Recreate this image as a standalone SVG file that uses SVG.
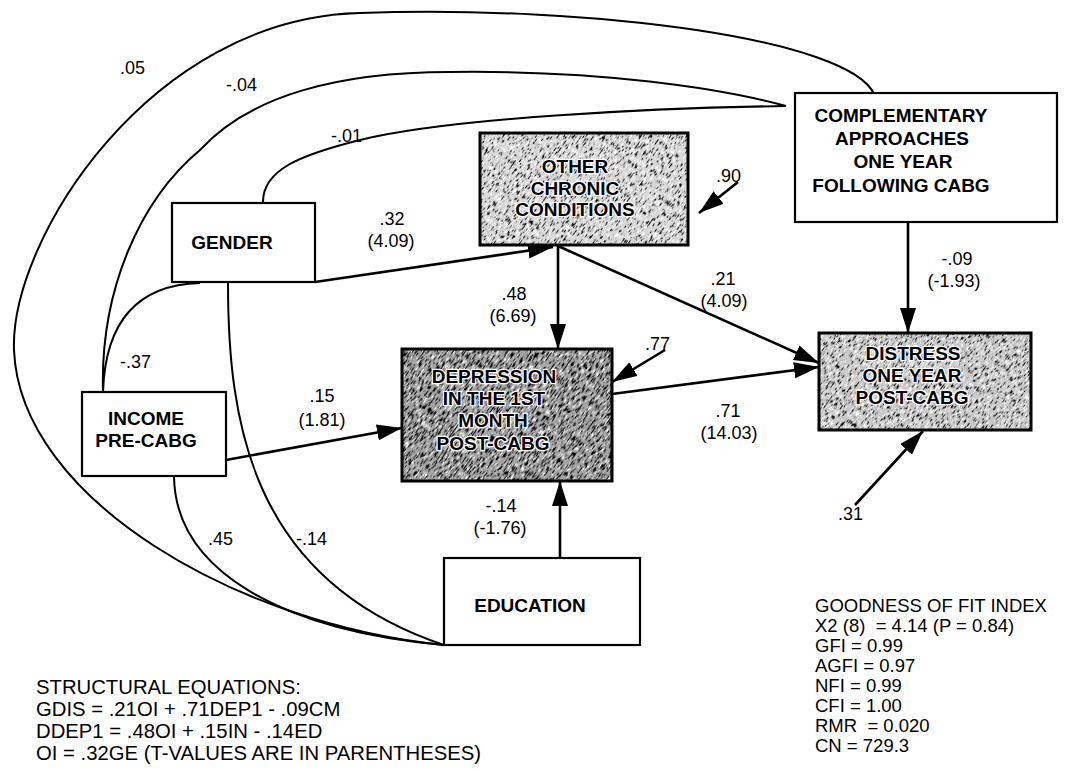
<svg xmlns="http://www.w3.org/2000/svg" width="1065" height="771" viewBox="0 0 1065 771">
<style>
.bx{fill:#fff;stroke:#000;stroke-width:2.2}
.sbx{fill:none;stroke:#000;stroke-width:3}
.nt{font-family:"Liberation Sans",Arial,sans-serif;font-weight:bold;font-size:19px;text-anchor:middle;fill:#000}
.st{font-family:"Liberation Sans",Arial,sans-serif;font-weight:bold;font-size:19px;text-anchor:middle;fill:#000;stroke:#fff;stroke-width:2.5;paint-order:stroke;stroke-linejoin:round}
.lb{font-family:"Liberation Sans",Arial,sans-serif;font-size:18px;text-anchor:middle;fill:#000}
.tx{font-family:"Liberation Sans",Arial,sans-serif;font-size:18px;fill:#000;white-space:pre}
.gf{font-family:"Liberation Sans",Arial,sans-serif;font-size:18.5px;fill:#000;white-space:pre}
.eq{font-family:"Liberation Sans",Arial,sans-serif;font-size:20.3px;fill:#000}
.cv{fill:none;stroke:#000;stroke-width:2}
.ar{fill:none;stroke:#000;stroke-width:2.6;marker-end:url(#ah)}
</style>
<defs>
<marker id="ah" markerUnits="userSpaceOnUse" markerWidth="26" markerHeight="18" refX="25" refY="8" orient="auto">
<path d="M0,0 L25,8 L0,16 z" fill="#000"/>
</marker>
<filter id="grain" x="0" y="0" width="1" height="1" color-interpolation-filters="sRGB">
<feTurbulence type="fractalNoise" baseFrequency="0.8 0.18" numOctaves="2" seed="5" result="n"/>
<feColorMatrix in="n" type="matrix" values="0 0 0 0 0  0 0 0 0 0  0 0 0 0 0  7 0 0 0 -4.1" result="blk"/>
<feColorMatrix in="n" type="matrix" values="0 0 0 0 1  0 0 0 0 1  0 0 0 0 1  -7 0 0 0 3.1" result="wht"/>
<feMerge result="m"><feMergeNode in="wht"/><feMergeNode in="blk"/></feMerge>
<feComposite in="m" in2="SourceGraphic" operator="in"/>
</filter>
<filter id="grainD" x="0" y="0" width="1" height="1" color-interpolation-filters="sRGB">
<feTurbulence type="fractalNoise" baseFrequency="0.8 0.15" numOctaves="2" seed="11" result="n"/>
<feColorMatrix in="n" type="matrix" values="0 0 0 0 0  0 0 0 0 0  0 0 0 0 0  7 0 0 0 -3.7" result="blk"/>
<feColorMatrix in="n" type="matrix" values="0 0 0 0 1  0 0 0 0 1  0 0 0 0 1  -7 0 0 0 2.8" result="wht"/>
<feMerge result="m"><feMergeNode in="wht"/><feMergeNode in="blk"/></feMerge>
<feComposite in="m" in2="SourceGraphic" operator="in"/>
</filter>
<clipPath id="cO"><rect x="480" y="133" width="208" height="112"/></clipPath>
<clipPath id="cD"><rect x="402" y="349" width="210" height="132"/></clipPath>
<clipPath id="cS"><rect x="819" y="333" width="212" height="97"/></clipPath>
</defs>
<rect width="1065" height="771" fill="#fff"/>

<g id="connectors">
<path class="cv" d="M444,645 C240,625 20,500 14,350 C10,240 150,18 360,13 C600,5 850,40 874,94"/>
<path class="cv" d="M103,392 C100,290 140,200 200,150 C250,95 340,72 450,72 C600,70 720,88 786,106"/>
<path class="cv" d="M263,203 C262,170 300,155 360,140 C450,118 650,108 786,106"/>
<path class="cv" d="M103,392 C105,330 130,285 200,283"/>
<path class="cv" d="M228,283 C228,420 250,580 444,645"/>
<path class="cv" d="M174,476 C175,570 280,630 444,645"/>
<line class="ar" x1="315" y1="282" x2="553" y2="247"/>
<line class="ar" x1="558" y1="246" x2="558" y2="349"/>
<line class="ar" x1="558" y1="246" x2="819" y2="363"/>
<line class="ar" x1="612" y1="394" x2="819" y2="367"/>
<line class="ar" x1="226" y1="460" x2="402" y2="428"/>
<line class="ar" x1="908" y1="222" x2="908" y2="333"/>
<line class="ar" x1="560" y1="558" x2="560" y2="481"/>
<line class="ar" x1="738" y1="182" x2="699" y2="213"/>
<line class="ar" x1="665" y1="350" x2="612" y2="382"/>
<line class="ar" x1="855" y1="505" x2="923" y2="431"/>
</g>

<g id="labels">
<text class="tx" x="120" y="74">.05</text>
<text class="tx" x="226" y="91">-.04</text>
<text class="tx" x="331" y="142">-.01</text>
<text class="lb" x="392" y="225">.32</text>
<text class="lb" x="391" y="247">(4.09)</text>
<text class="tx" x="120" y="368">-.37</text>
<text class="lb" x="322" y="402">.15</text>
<text class="lb" x="322" y="426">(1.81)</text>
<text class="lb" x="514" y="300">.48</text>
<text class="lb" x="513" y="322">(6.69)</text>
<text class="tx" x="716" y="182">.90</text>
<text class="tx" x="645" y="350">.77</text>
<text class="lb" x="723" y="285">.21</text>
<text class="lb" x="724" y="307">(4.09)</text>
<text class="lb" x="957" y="265">-.09</text>
<text class="lb" x="954" y="287">(-1.93)</text>
<text class="lb" x="728" y="417">.71</text>
<text class="lb" x="729" y="439">(14.03)</text>
<text class="tx" x="838" y="520">.31</text>
<text class="lb" x="501" y="512">-.14</text>
<text class="lb" x="500" y="534">(-1.76)</text>
<text class="tx" x="208" y="545">.45</text>
<text class="tx" x="296" y="545">-.14</text>
</g>

<g id="gender">
<rect class="bx" x="172" y="203" width="143" height="79"/>
<text class="nt" x="232" y="249">GENDER</text>
</g>

<g id="income">
<rect class="bx" x="82" y="392" width="144" height="84"/>
<text class="nt" x="146" y="425">INCOME</text>
<text class="nt" x="146" y="447">PRE-CABG</text>
</g>

<g id="other-chronic">
<rect x="480" y="133" width="208" height="112" fill="#d6d6d6"/>
<g clip-path="url(#cO)"><rect x="384" y="39" width="400" height="300" fill="#fff" filter="url(#grain)" transform="rotate(35 584 189)"/></g>
<rect class="sbx" x="480" y="133" width="208" height="112"/>
<text class="st" x="575" y="173">OTHER</text>
<text class="st" x="575" y="195">CHRONIC</text>
<text class="st" x="575" y="216">CONDITIONS</text>
</g>

<g id="complementary">
<rect class="bx" x="795" y="93" width="262" height="129"/>
<text class="nt" x="901" y="122">COMPLEMENTARY</text>
<text class="nt" x="902" y="145">APPROACHES</text>
<text class="nt" x="903" y="168">ONE YEAR</text>
<text class="nt" x="901" y="192">FOLLOWING CABG</text>
</g>

<g id="depression">
<rect x="402" y="349" width="210" height="132" fill="#a4a4a4"/>
<g clip-path="url(#cD)"><rect x="307" y="215" width="400" height="400" fill="#fff" filter="url(#grainD)" transform="rotate(35 507 415)"/></g>
<rect class="sbx" x="402" y="349" width="210" height="132"/>
<text class="st" x="494" y="383">DEPRESSION</text>
<text class="st" x="494" y="405">IN THE 1ST</text>
<text class="st" x="493" y="427">MONTH</text>
<text class="st" x="493" y="450">POST-CABG</text>
</g>

<g id="distress">
<rect x="819" y="333" width="212" height="97" fill="#c8c8c8"/>
<g clip-path="url(#cS)"><rect x="725" y="231" width="400" height="300" fill="#fff" filter="url(#grain)" transform="rotate(35 925 381)"/></g>
<rect class="sbx" x="819" y="333" width="212" height="97"/>
<text class="st" x="913" y="360">DISTRESS</text>
<text class="st" x="912" y="382">ONE YEAR</text>
<text class="st" x="912" y="404">POST-CABG</text>
</g>

<g id="education">
<rect class="bx" x="444" y="558" width="196" height="87"/>
<text class="nt" x="530" y="612">EDUCATION</text>
</g>

<g id="equations">
<text class="eq" x="36" y="694">STRUCTURAL EQUATIONS:</text>
<text class="eq" x="36" y="716">GDIS = .21OI + .71DEP1 - .09CM</text>
<text class="eq" x="36" y="738">DDEP1 = .48OI + .15IN - .14ED</text>
<text class="eq" x="36" y="760">OI = .32GE (T-VALUES ARE IN PARENTHESES)</text>
</g>

<g id="fit-index">
<text class="gf" x="815" y="612">GOODNESS OF FIT INDEX</text>
<text class="gf" x="815" y="632">X2 (8)  = 4.14 (P = 0.84)</text>
<text class="gf" x="815" y="652">GFI = 0.99</text>
<text class="gf" x="815" y="672">AGFI = 0.97</text>
<text class="gf" x="815" y="692">NFI = 0.99</text>
<text class="gf" x="815" y="712">CFI = 1.00</text>
<text class="gf" x="815" y="732">RMR  = 0.020</text>
<text class="gf" x="815" y="752">CN = 729.3</text>
</g>
</svg>
